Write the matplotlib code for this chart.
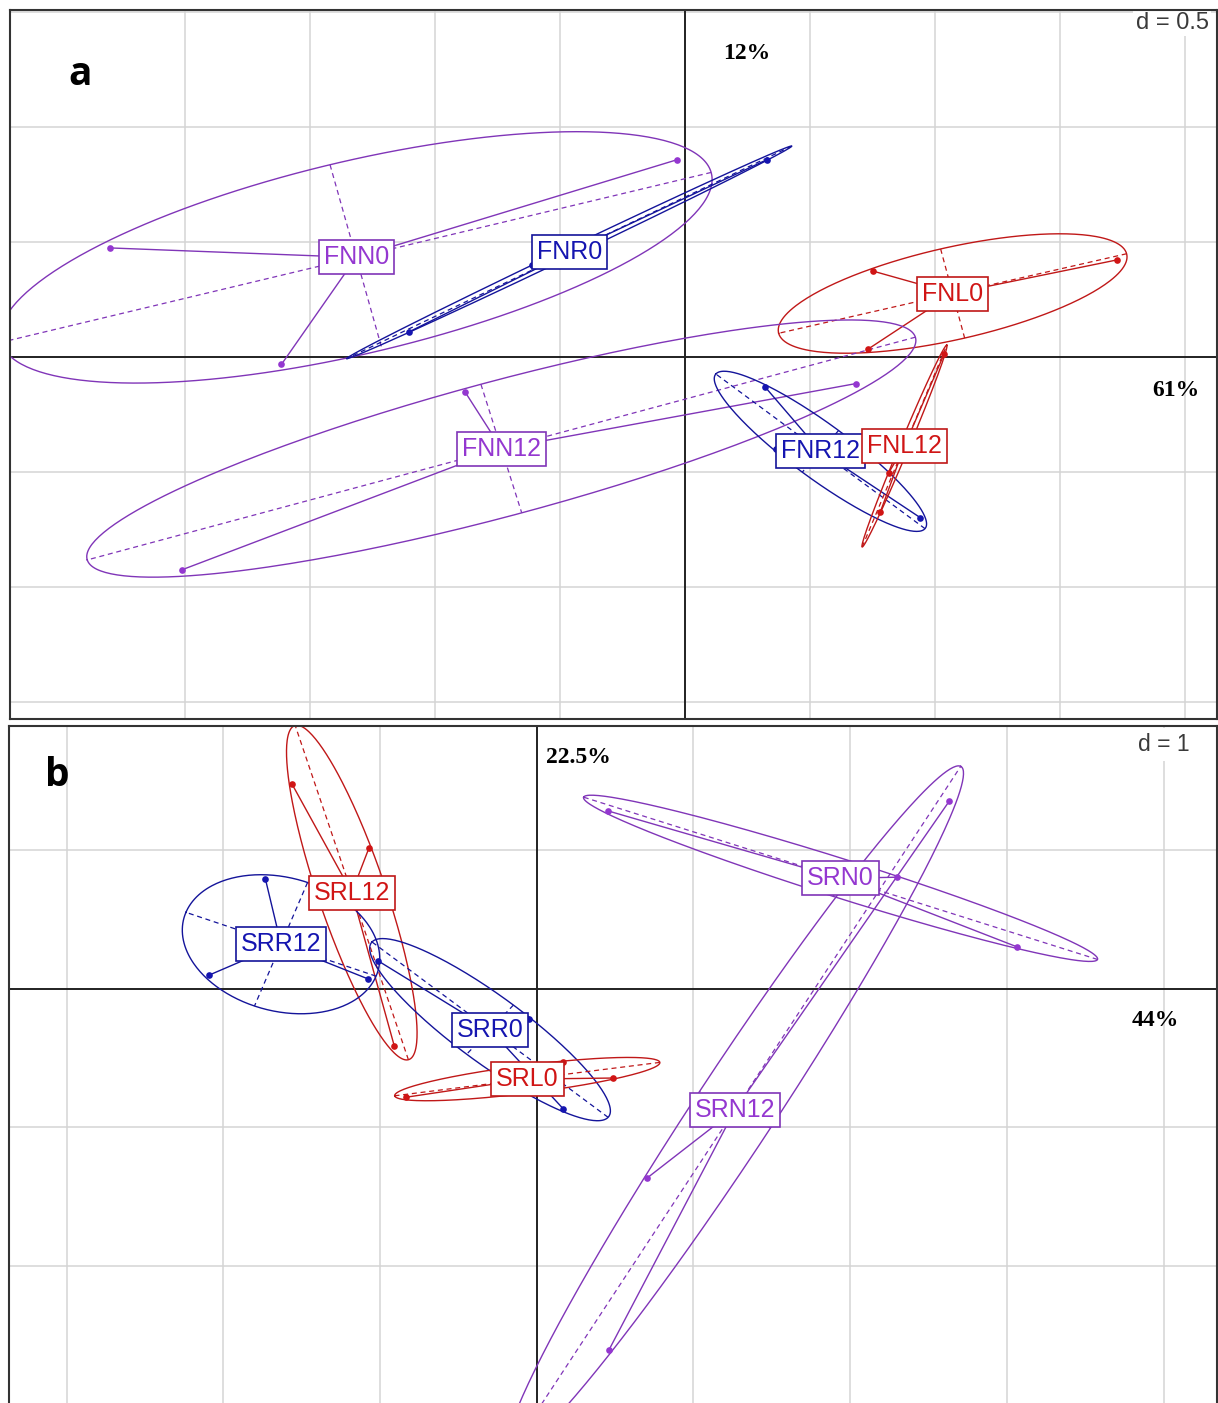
import numpy as np
import matplotlib
matplotlib.use("Agg")
import matplotlib.pyplot as plt

# ---- panel a: factorial coordinates per class ----
a_labels = ["FNN0", "FNR0", "FNL0", "FNN12", "FNR12", "FNL12"]
a_groups = ["N", "R", "L", "N", "R", "L"]
a_x = [
    [-2.300, -1.615, -0.033],
    [-1.105, 0.326, -0.611],
    [0.753, 1.728, 0.730],
    [-0.879, -2.012, 0.685],
    [0.320, 0.941, 0.363],
    [0.815, 0.781, 1.037],
]
a_y = [
    [0.473, -0.033, 0.856],
    [0.108, 0.856, 0.398],
    [0.372, 0.421, 0.032],
    [-0.155, -0.925, -0.116],
    [-0.131, -0.699, -0.402],
    [-0.503, -0.674, 0.014],
]

# ---- panel b ----
b_labels = ["SRN0", "SRN12", "SRL12", "SRR12", "SRR0", "SRL0"]
b_groups = ["N", "N", "L", "R", "R", "L"]
b_x = [
    [0.457, 2.297, 3.063],
    [2.633, 0.702, 0.461],
    [-1.562, -1.070, -0.909],
    [-1.732, -2.089, -1.075],
    [-1.011, 0.168, -0.051],
    [0.166, 0.489, -0.836],
]
b_y = [
    [1.285, 0.807, 0.305],
    [1.357, -1.367, -2.606],
    [1.480, 1.020, -0.412],
    [0.796, 0.101, 0.072],
    [0.202, -0.864, -0.219],
    [-0.527, -0.643, -0.782],
]

colors = {"N": "#9437D0", "R": "#1515B0", "L": "#D01515"}
line_colors = {"N": "#8035B8", "R": "#14149A", "L": "#C01818"}
CELLIPSE = 1.5


def draw_classes(ax, labels, groups, xs, ys):
    boxes = []
    for lab, g, x, y in zip(labels, groups, xs, ys):
        c = colors[g]
        lc = line_colors[g]
        x = np.asarray(x)
        y = np.asarray(y)
        cx, cy = x.mean(), y.mean()
        cov = np.cov(x, y, bias=True)
        vals, vecs = np.linalg.eigh(cov)
        vals = np.clip(vals, 0, None)
        big = CELLIPSE * np.sqrt(vals[1])
        small = CELLIPSE * np.sqrt(vals[0])
        v1 = vecs[:, 1]
        v0 = vecs[:, 0]
        t = np.linspace(0, 2 * np.pi, 300)
        ex = cx + big * np.cos(t) * v1[0] + small * np.sin(t) * v0[0]
        ey = cy + big * np.cos(t) * v1[1] + small * np.sin(t) * v0[1]
        ax.plot(ex, ey, color=lc, lw=1.0, zorder=3)
        # ellipse axes
        ax.plot([cx - big * v1[0], cx + big * v1[0]],
                [cy - big * v1[1], cy + big * v1[1]],
                color=lc, lw=0.9, ls=(0, (4, 3)), zorder=3)
        ax.plot([cx - small * v0[0], cx + small * v0[0]],
                [cy - small * v0[1], cy + small * v0[1]],
                color=lc, lw=0.9, ls=(0, (4, 3)), zorder=3)
        # stars
        for xi, yi in zip(x, y):
            ax.plot([xi, cx], [yi, cy], color=lc, lw=1.0, zorder=3)
        ax.plot(x, y, "o", color=c, ms=4.8, mec="none", zorder=4)
        boxes.append((cx, cy, lab, c, lc))
    for cx, cy, lab, c, lc in boxes:
        ax.text(cx, cy, lab, ha="center", va="center", fontsize=18,
                family="Liberation Sans", color=c, zorder=6,
                bbox=dict(boxstyle="square,pad=0.2", fc="white", ec=lc, lw=1.2))


def setup(ax, xlim, ylim, step, gx_range):
    ax.set_xlim(*xlim)
    ax.set_ylim(*ylim)
    gx = np.arange(gx_range[0], gx_range[1] + step / 2, step)
    gy = np.arange(np.ceil(ylim[0] / step) * step, ylim[1], step)
    for v in gx:
        ax.axvline(v, color="#D4D4D4", lw=1.1, zorder=1)
    for v in gy:
        ax.axhline(v, color="#D4D4D4", lw=1.1, zorder=1)
    ax.axvline(0, color="#222222", lw=1.4, zorder=2)
    ax.axhline(0, color="#222222", lw=1.4, zorder=2)
    ax.set_xticks([])
    ax.set_yticks([])
    for s in ax.spines.values():
        s.set_color("#333333")
        s.set_linewidth(1.5)
        s.set_zorder(10)


W, H = 1218, 1403
fig = plt.figure(figsize=(W / 100, H / 100), dpi=100)

axa = fig.add_axes([9.5 / W, 1 - 719.3 / H, (1216.5 - 9.5) / W, (719.3 - 9.5) / H])
setup(axa, (-2.703, 2.126), (-1.575, 1.509), 0.5, (-2.0, 2.0))
draw_classes(axa, a_labels, a_groups, a_x, a_y)
axa.text(-2.42, 1.228, "a", fontsize=28, fontweight="bold", family="Open Sans",
         ha="center", va="center", zorder=7)
axa.text(0.245, 1.317, "12%", fontsize=17, fontweight="bold",
         family="Liberation Serif", ha="center", va="center", zorder=7)
axa.text(1.962, -0.148, "61%", fontsize=17, fontweight="bold",
         family="Liberation Serif", ha="center", va="center", zorder=7)
axa.text(0.9935, 0.997, "d = 0.5", transform=axa.transAxes, ha="right", va="top",
         fontsize=17, family="Liberation Sans", color="#3a3a3a", zorder=7,
         bbox=dict(boxstyle="square,pad=0.1", fc="white", ec="none"))

axb = fig.add_axes([9.3 / W, 1 - 1410 / H, (1216.5 - 9.3) / W, (1410 - 725.7) / H])
setup(axb, (-3.366, 4.338), (-3.040, 1.901), 1.0, (-3.0, 4.0))
draw_classes(axb, b_labels, b_groups, b_x, b_y)
axb.text(-3.061, 1.545, "b", fontsize=28, fontweight="bold", family="Open Sans",
         ha="center", va="center", zorder=7)
axb.text(0.264, 1.668, "22.5%", fontsize=17, fontweight="bold",
         family="Liberation Serif", ha="center", va="center", zorder=7)
axb.text(3.946, -0.231, "44%", fontsize=17, fontweight="bold",
         family="Liberation Serif", ha="center", va="center", zorder=7)
axb.text(0.978, 0.99, "d = 1", transform=axb.transAxes, ha="right", va="top",
         fontsize=16.5, family="Liberation Sans", color="#3a3a3a", zorder=7,
         bbox=dict(boxstyle="square,pad=0.22", fc="white", ec="none"))

fig.savefig("out.png", dpi=100)
